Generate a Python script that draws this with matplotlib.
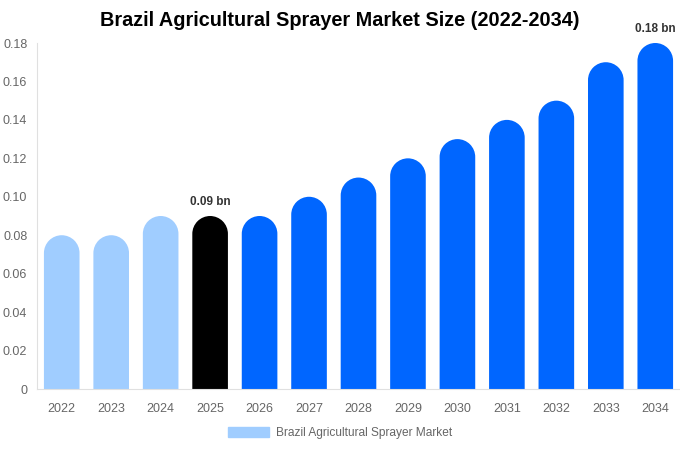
import matplotlib.pyplot as plt
from matplotlib.patches import Patch, PathPatch
from matplotlib.path import Path
from matplotlib.transforms import Affine2D

plt.rcParams['font.family'] = ['Liberation Sans', 'DejaVu Sans']

# data
years = ["2022", "2023", "2024", "2025", "2026", "2027", "2028",
         "2029", "2030", "2031", "2032", "2033", "2034"]
values = [0.08, 0.08, 0.09, 0.09, 0.09, 0.10, 0.11,
          0.12, 0.13, 0.14, 0.15, 0.17, 0.18]
colors = ["#a0cdff"] * 3 + ["#000000"] + ["#0066ff"] * 9
labels = {3: "0.09 bn", 12: "0.18 bn"}
yticks = [0, 0.02, 0.04, 0.06, 0.08, 0.10, 0.12, 0.14, 0.16, 0.18]

W, H = 680, 450
fig = plt.figure(figsize=(W / 100, H / 100), dpi=100)
ax_left, ax_right, ax_top, ax_bottom = 37, 680, 43, 389
ax = fig.add_axes([ax_left / W, (H - ax_bottom) / H,
                   (ax_right - ax_left) / W, (ax_bottom - ax_top) / H])

ymax = 0.18
ax.set_xlim(-0.5, len(years) - 0.5)
ax.set_ylim(0, ymax)

bw = 0.72
# radius of rounded top in data units (y), given axes pixel height
px_w = (ax_right - ax_left) / len(years)
r_px = bw * px_w / 2
ry = r_px * ymax / (ax_bottom - ax_top)


def rounded_bar(x, v):
    # half-ellipse top (looks round on screen) on a square base
    arc = Path.arc(0, 180)
    arc = arc.transformed(Affine2D().scale(bw / 2, ry).translate(x, v - ry))
    verts = [(x - bw / 2, 0), (x + bw / 2, 0)] + list(arc.vertices) + [(x - bw / 2, 0)]
    codes = [Path.MOVETO, Path.LINETO] + [Path.LINETO] + list(arc.codes[1:]) + [Path.CLOSEPOLY]
    return Path(verts, codes)


xs = list(range(len(years)))
for x, v, c in zip(xs, values, colors):
    ax.add_patch(PathPatch(rounded_bar(x, v), facecolor=c, edgecolor="none"))

for i, txt in labels.items():
    ax.annotate(txt, (xs[i], values[i]), xytext=(0, 6), textcoords="offset points",
                ha="center", va="bottom", fontsize=8.5, fontweight="bold",
                color="#333333", annotation_clip=False)

ax.set_xticks(xs)
ax.set_xticklabels(years)
ax.set_yticks(yticks)
ax.set_yticklabels(["0"] + [f"{t:.2f}" for t in yticks[1:]])
ax.tick_params(axis="both", length=0, labelsize=9, colors="#666666")
ax.tick_params(axis="x", pad=10)
ax.tick_params(axis="y", pad=7)

for s in ["top", "right"]:
    ax.spines[s].set_visible(False)
ax.spines["left"].set_color("#e0e0e0")
ax.spines["bottom"].set_color("#e0e0e0")

fig.text(0.5, 1 - 21 / H, "Brazil Agricultural Sprayer Market Size (2022-2034)",
         ha="center", va="center", fontsize=14.3, fontweight="bold")

fig.legend(handles=[Patch(color="#a0cdff", label="Brazil Agricultural Sprayer Market")],
           loc="center", bbox_to_anchor=(0.5, 1 - 433 / H), frameon=False,
           fontsize=8.6, labelcolor="#666666", handlelength=3.4, handleheight=0.9,
           handletextpad=0.6)

fig.savefig("out.png", dpi=100)
